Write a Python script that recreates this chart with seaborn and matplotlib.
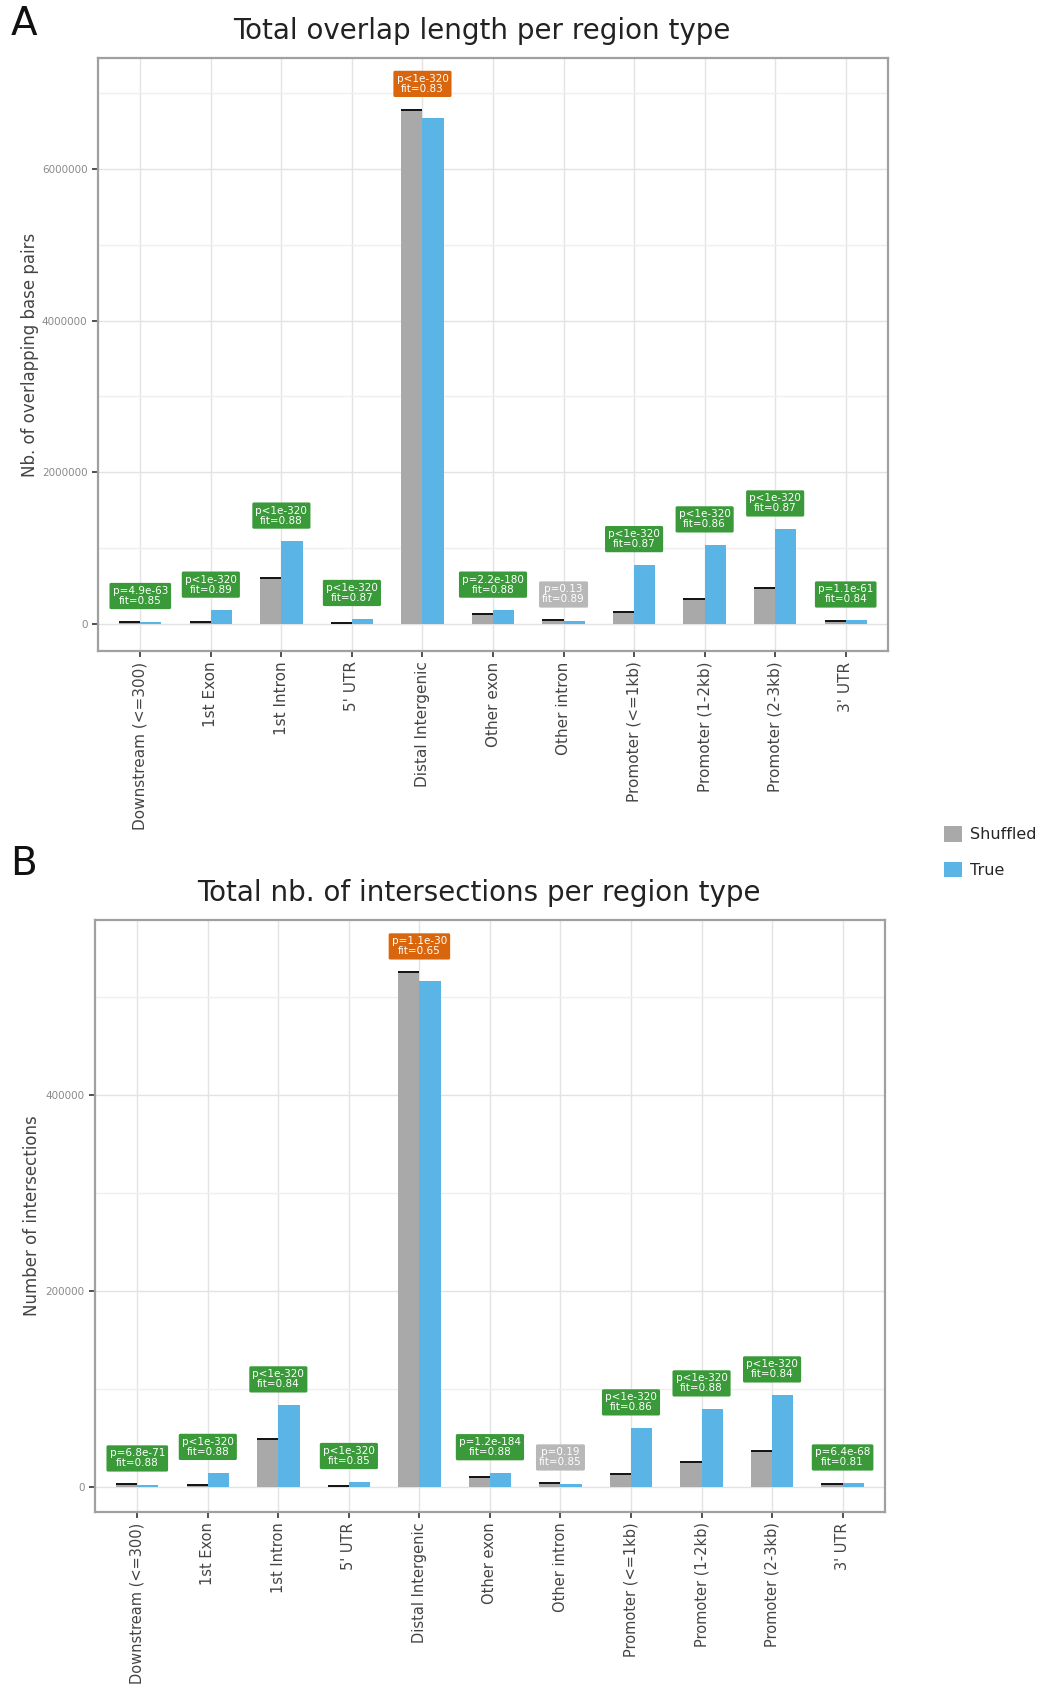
import pandas as pd
import matplotlib.pyplot as plt
import seaborn as sns
from matplotlib.patches import Patch
from matplotlib.ticker import MultipleLocator

# Region types (x categories)
regions = ["Downstream (<=300)", "1st Exon", "1st Intron", "5' UTR", "Distal Intergenic",
           "Other exon", "Other intron", "Promoter (<=1kb)", "Promoter (1-2kb)",
           "Promoter (2-3kb)", "3' UTR"]

# Panel A: total overlap length (bp)
overlap_shuffled = [30000, 30000, 610000, 10000, 6780000, 130000, 50000, 160000, 330000, 470000, 40000]
overlap_true = [25000, 180000, 1090000, 70000, 6670000, 180000, 35000, 780000, 1040000, 1250000, 50000]
overlap_labels = ["p=4.9e-63\nfit=0.85", "p<1e-320\nfit=0.89", "p<1e-320\nfit=0.88",
                  "p<1e-320\nfit=0.87", "p<1e-320\nfit=0.83", "p=2.2e-180\nfit=0.88",
                  "p=0.13\nfit=0.89", "p<1e-320\nfit=0.87", "p<1e-320\nfit=0.86",
                  "p<1e-320\nfit=0.87", "p=1.1e-61\nfit=0.84"]
overlap_status = ["sig", "sig", "sig", "sig", "depleted", "sig", "ns", "sig", "sig", "sig", "sig"]

# Panel B: number of intersections
inter_shuffled = [2500, 2000, 48500, 500, 525800, 9700, 3500, 13200, 25000, 36300, 3000]
inter_true = [2000, 14300, 83300, 5000, 516600, 14000, 2500, 59800, 79200, 93500, 3500]
inter_labels = ["p=6.8e-71\nfit=0.88", "p<1e-320\nfit=0.88", "p<1e-320\nfit=0.84",
                "p<1e-320\nfit=0.85", "p=1.1e-30\nfit=0.65", "p=1.2e-184\nfit=0.88",
                "p=0.19\nfit=0.85", "p<1e-320\nfit=0.86", "p<1e-320\nfit=0.88",
                "p<1e-320\nfit=0.84", "p=6.4e-68\nfit=0.81"]
inter_status = ["sig", "sig", "sig", "sig", "depleted", "sig", "ns", "sig", "sig", "sig", "sig"]

palette = {"Shuffled": "#A9A9A9", "True": "#5AB4E6"}
box_colors = {"sig": "#3A9A3A", "depleted": "#D9660C", "ns": "#B8B8B8"}

sns.set_theme(style="white")
plt.rcParams['font.family'] = ['DejaVu Sans']

fig = plt.figure(figsize=(10.39, 16.87), dpi=100)
ax_a = fig.add_axes([0.0943, 0.6141, 0.7604, 0.3515])
ax_b = fig.add_axes([0.0914, 0.1037, 0.7603, 0.3509])


def draw_panel(ax, shuffled, true, labels, status, ylim, major, title, ylabel, pad, xsize):
    df = pd.DataFrame({
        "region": regions * 2,
        "group": ["Shuffled"] * len(regions) + ["True"] * len(regions),
        "value": shuffled + true,
    })
    sns.barplot(data=df, x="region", y="value", hue="group", order=regions,
                hue_order=["Shuffled", "True"], palette=palette, width=0.6,
                saturation=1, errorbar=None, ax=ax, legend=False, zorder=3,
                linewidth=0)
    # black line on top of shuffled bars
    for p in ax.containers[0]:
        ax.hlines(p.get_height(), p.get_x(), p.get_x() + p.get_width(),
                  color="#111111", lw=1.4, zorder=4)
    offset = 0.05 * max(max(shuffled), max(true))
    for i, lab in enumerate(labels):
        top = max(shuffled[i], true[i])
        ax.text(i, top + offset, lab, ha="center", va="center", fontsize=7.5,
                color="white", linespacing=1.0, zorder=5,
                bbox=dict(boxstyle="round,pad=0.3,rounding_size=0.15",
                          fc=box_colors[status[i]], ec="none"))
    ax.set_xlim(-0.6, len(regions) - 0.4)
    ax.set_ylim(*ylim)
    ax.yaxis.set_major_locator(MultipleLocator(major))
    ax.yaxis.set_minor_locator(MultipleLocator(major / 2))
    ax.grid(True, which="major", color="#E3E3E3", lw=1.0, zorder=0)
    ax.grid(True, which="minor", axis="y", color="#EFEFEF", lw=1.0, zorder=0)
    ax.set_axisbelow(True)
    for s in ax.spines.values():
        s.set_color("#A0A0A0")
        s.set_linewidth(1.6)
    ax.tick_params(axis="x", labelrotation=90, labelsize=xsize, labelcolor="#444444",
                   bottom=True, length=4, color="#333333", width=1.2)
    ax.tick_params(axis="y", labelsize=7.5, labelcolor="#8A8A8A", left=True,
                   length=4, color="#333333", width=1.2)
    ax.tick_params(axis="y", which="minor", left=False)
    ax.ticklabel_format(axis="y", style="plain")
    ax.set_xlabel("")
    ax.set_ylabel(ylabel, fontsize=12, color="#444444", labelpad=pad)
    ax.set_title(title, fontsize=20, color="#222222", pad=14, x=0.486)


draw_panel(ax_a, overlap_shuffled, overlap_true, overlap_labels, overlap_status,
           (-356000, 7460000), 2000000, "Total overlap length per region type",
           "Nb. of overlapping base pairs", 2, 11)
draw_panel(ax_b, inter_shuffled, inter_true, inter_labels, inter_status,
           (-26000, 579000), 200000, "Total nb. of intersections per region type",
           "Number of intersections", 3, 10.5)

fig.text(0.010, 0.986, "A", fontsize=28, va="center", ha="left", color="#111111")
fig.text(0.010, 0.488, "B", fontsize=28, va="center", ha="left", color="#111111")

handles = [Patch(fc=palette["Shuffled"], ec="none"), Patch(fc=palette["True"], ec="none")]
fig.legend(handles, ["Shuffled", "True"], loc="center left",
           bbox_to_anchor=(0.895, 0.495), frameon=False, fontsize=11.5,
           handlelength=1.1, handleheight=1.1, handletextpad=0.5, labelspacing=1.2)

plt.savefig("out.png", dpi=100)
plt.close()
